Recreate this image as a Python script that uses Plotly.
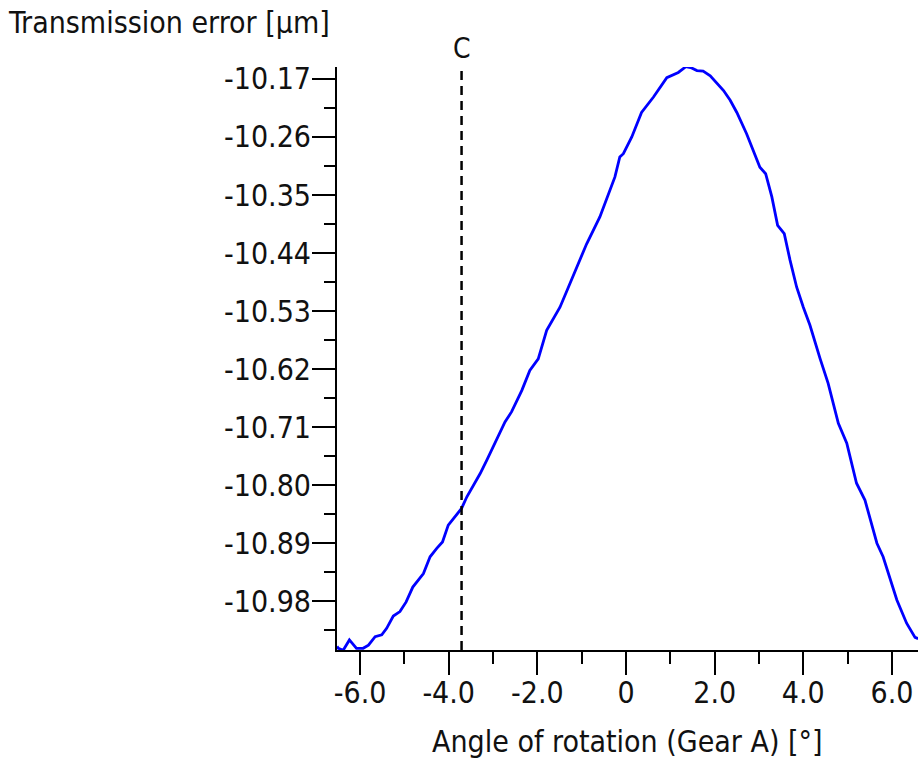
import plotly.graph_objects as go

# ---- data ----
angle = [-6.52, -6.49, -6.38, -6.24, -6.08, -5.93, -5.81, -5.66, -5.51, -5.40,
         -5.25, -5.10, -4.96, -4.81, -4.57, -4.42, -4.27, -4.14, -4.01, -3.71,
         -3.59, -3.29, -3.14, -2.96, -2.73, -2.58, -2.35, -2.17, -1.98, -1.79,
         -1.49, -1.30, -0.89, -0.59, -0.51, -0.25, -0.14, -0.06, 0.13, 0.35,
         0.62, 0.92, 1.18, 1.35, 1.48, 1.60, 1.74, 1.90, 2.20, 2.35,
         2.50, 2.72, 2.87, 3.02, 3.15, 3.29, 3.42, 3.57, 3.70, 3.85,
         4.00, 4.15, 4.38, 4.56, 4.79, 4.98, 5.20, 5.39, 5.66, 5.80,
         6.11, 6.33, 6.52, 6.59]
transmission_error = [-11.050, -11.053, -11.056, -11.040, -11.053, -11.053, -11.048, -11.035, -11.032, -11.022,
                      -11.003, -10.996, -10.981, -10.958, -10.937, -10.911, -10.898, -10.888, -10.862, -10.836,
                      -10.818, -10.782, -10.761, -10.735, -10.702, -10.686, -10.653, -10.622, -10.604, -10.560,
                      -10.524, -10.493, -10.426, -10.384, -10.369, -10.322, -10.291, -10.286, -10.260, -10.222,
                      -10.198, -10.168, -10.160, -10.151, -10.153, -10.157, -10.158, -10.165, -10.188, -10.203,
                      -10.222, -10.255, -10.281, -10.307, -10.317, -10.353, -10.397, -10.410, -10.451, -10.493,
                      -10.524, -10.552, -10.604, -10.642, -10.704, -10.735, -10.797, -10.823, -10.890, -10.911,
                      -10.978, -11.014, -11.036, -11.038]

x_tick_values = [-6, -4, -2, 0, 2, 4, 6]
x_tick_labels = ["-6.0", "-4.0", "-2.0", "0", "2.0", "4.0", "6.0"]
x_minor_values = [-5, -3, -1, 1, 3, 5]

y_tick_values = [-10.17, -10.26, -10.35, -10.44, -10.53, -10.62, -10.71, -10.80, -10.89, -10.98]
y_tick_labels = ["-10.17", "-10.26", "-10.35", "-10.44", "-10.53", "-10.62", "-10.71", "-10.80", "-10.89", "-10.98"]
y_minor_values = [-10.215, -10.305, -10.395, -10.485, -10.575, -10.665, -10.755, -10.845, -10.935, -11.025]

marker_c_angle = -3.71
marker_c_label = "C"

x_title = "Angle of rotation (Gear A) [°]"
y_title = "Transmission error [µm]"

FONT = "DejaVu Sans Condensed, DejaVu Sans, sans-serif"
TXT = "#111111"

# plot area targets x 337..918, y 67..650 (page body margin removed below)
PLOT_W, PLOT_H = 581, 583

fig = go.Figure()
fig.add_trace(go.Scatter(x=angle, y=transmission_error, mode="lines",
                         line=dict(color="#0000ff", width=2.8), showlegend=False,
                         hoverinfo="skip"))

fig.add_shape(type="line", xref="x", yref="paper", x0=marker_c_angle, x1=marker_c_angle,
              y0=0, y1=(650 - 70) / PLOT_H, line=dict(color="black", width=2.5, dash="9px,6px"))
fig.add_annotation(x=marker_c_angle, xref="x", y=(650 - 49) / PLOT_H, yref="paper", text=marker_c_label,
                   showarrow=False, xanchor="center", yanchor="middle",
                   font=dict(family=FONT, size=28, color=TXT))

fig.add_annotation(x=(6 - 337) / PLOT_W, xref="paper", y=(650 - 22) / PLOT_H, yref="paper",
                   text=y_title, showarrow=False, xanchor="left", yanchor="middle",
                   font=dict(family=FONT, size=30, color=TXT))
fig.add_annotation(x=0.5, xref="paper", y=(650 - 741) / PLOT_H, yref="paper",
                   text=x_title, showarrow=False, xanchor="center", yanchor="middle",
                   font=dict(family=FONT, size=30, color=TXT))

fig.update_layout(
    width=918, height=761, autosize=False,
    margin=dict(l=337, r=0, t=67, b=111, pad=0),
    paper_bgcolor="white", plot_bgcolor="white",
    font=dict(family=FONT, size=30, color=TXT),
    xaxis=dict(range=[-6.52, 6.587], tickmode="array", tickvals=x_tick_values,
               ticktext=x_tick_labels, ticks="outside", ticklen=23, tickwidth=2,
               tickcolor="black", showline=True, linecolor="black", linewidth=2,
               showgrid=False, zeroline=False, ticklabelstandoff=-8,
               tickfont=dict(family=FONT, size=30, color=TXT),
               minor=dict(tickmode="array", tickvals=x_minor_values, ticks="outside",
                          ticklen=12, tickwidth=2, tickcolor="black", showgrid=False)),
    yaxis=dict(range=[-11.0556, -10.1515], tickmode="array", tickvals=y_tick_values,
               ticktext=y_tick_labels, ticks="outside", ticklen=23, tickwidth=2,
               tickcolor="black", showline=True, linecolor="black", linewidth=2,
               showgrid=False, zeroline=False, ticklabelstandoff=-5,
               tickfont=dict(family=FONT, size=30, color=TXT),
               minor=dict(tickmode="array", tickvals=y_minor_values, ticks="outside",
                          ticklen=11, tickwidth=2, tickcolor="black", showgrid=False)),
)

fig.write_html("out.html", config={"displayModeBar": False},
               post_script="document.body.style.margin='0';document.body.style.overflow='hidden';")
